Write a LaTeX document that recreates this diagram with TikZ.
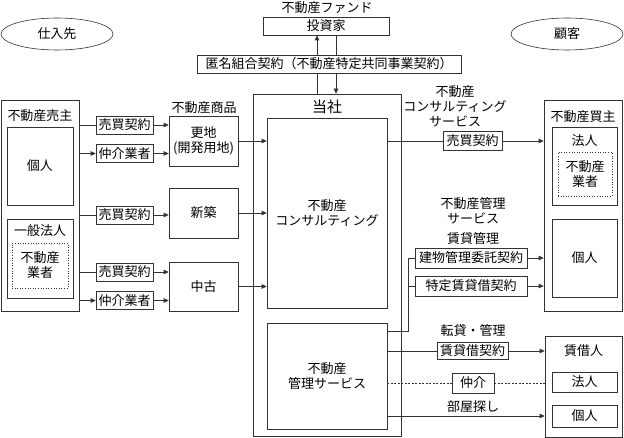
\documentclass[tikz,border=0pt]{standalone}
\usepackage{fontspec}
\setmainfont{Noto Sans CJK JP}
\usetikzlibrary{arrows.meta,shapes.geometric}

\tikzstyle{box} = [draw, rectangle, fill=white, inner sep=0pt, align=center]
\tikzstyle{dotbox} = [draw, dotted, rectangle, inner sep=0pt, align=center]
\tikzstyle{oval} = [draw, ellipse, inner sep=0pt]
\tikzstyle{txt} = [inner sep=0pt, align=center]

\begin{document}
\begin{tikzpicture}[x=1pt, y=-1pt, line width=0.6pt, draw=black!80,
    >={Triangle[length=5pt,width=4.5pt]},
    font=\fontsize{13}{15}\selectfont]
      \useasboundingbox (0,0) rectangle (624,438);

      % top
      \node [oval, minimum width=112, minimum height=32] (supp) at (57,34) {仕入先};
      \node [oval, minimum width=112, minimum height=32] (cust) at (567,34) {顧客};
      \node [txt] (fund) at (327,8) {不動産ファンド};
      \node [box, minimum width=126, minimum height=18] (inv) at (326,26) {投資家};

      % tosha
      \node [box, minimum width=148, minimum height=342] (tosha) at (327,265) {};
      \node [txt, font=\fontsize{15}{17}\selectfont] (toshalbl) at (327,107) {当社};
      \node [box, minimum width=120, minimum height=190] (cons) at (327,213) {不動産\\コンサルティング};
      \node [box, minimum width=120, minimum height=106] (mgmt) at (327,376) {不動産\\管理サービス};

      \node [shape=coordinate] (upx) at (317,0) {};
      \node [shape=coordinate] (downx) at (336,0) {};
      \draw [->] (upx |- tosha.north) -- (upx |- inv.south);
      \draw [->] (downx |- inv.south) -- (downx |- tosha.north);
      \node [box, minimum width=264, minimum height=18] (tokumei) at (329,64) {匿名組合契約（不動産特定共同事業契約）};

      % sellers
      \node [box, minimum width=78, minimum height=211] (seller) at (40,205.5) {};
      \node [txt] (sellerlbl) at (40,116) {不動産売主};
      \node [box, minimum width=66, minimum height=78] (kojin1) at (40,166) {個人};
      \node [box, minimum width=66, minimum height=79] (hojin1) at (40,258.5) {};
      \node [txt] (hojin1lbl) at (40,231) {一般法人};
      \node [dotbox, minimum width=56, minimum height=45] (dot1) at (40,265.5) {不動産\\業者};

      % contracts on the left
      \node [box, minimum width=57, minimum height=18] (c1) at (124.5,125) {売買契約};
      \node [box, minimum width=57, minimum height=18] (c2) at (124.5,153.5) {仲介業者};
      \node [box, minimum width=57, minimum height=18] (c3) at (124.5,215) {売買契約};
      \node [box, minimum width=57, minimum height=18] (c4) at (124.5,272) {売買契約};
      \node [box, minimum width=57, minimum height=18] (c5) at (124.5,300.5) {仲介業者};

      % products
      \node [txt] (prodlbl) at (204,108) {不動産商品};
      \node [box, minimum width=69, minimum height=50] (sara) at (203.5,141) {更地\\(開発用地)};
      \node [box, minimum width=69, minimum height=50] (shin) at (203.5,213) {新築};
      \node [box, minimum width=69, minimum height=49] (chuko) at (203.5,286.5) {中古};

      \draw (seller.east |- c1) -- (c1);
      \draw [->] (c1) -- (c1 -| sara.west);
      \draw [->] (seller.east |- c2) -- (c2);
      \draw [->] (c2) -- (c2 -| sara.west);
      \draw (seller.east |- c3) -- (c3);
      \draw [->] (c3) -- (c3 -| shin.west);
      \draw (seller.east |- c4) -- (c4);
      \draw [->] (c4) -- (c4 -| chuko.west);
      \draw [->] (seller.east |- c5) -- (c5);
      \draw [->] (c5) -- (c5 -| chuko.west);
      \draw [->] (sara) -- (sara -| cons.west);
      \draw [->] (shin) -- (shin -| cons.west);
      \draw [->] (chuko) -- (chuko -| cons.west);

      % buyers
      \node [box, minimum width=78, minimum height=211] (buyer) at (583,205.5) {};
      \node [txt] (buyerlbl) at (583,117) {不動産買主};
      \node [box, minimum width=65, minimum height=78] (hojin2) at (584.5,166) {};
      \node [txt] (hojin2lbl) at (584.5,141) {法人};
      \node [dotbox, minimum width=54, minimum height=44] (dot2) at (585,174) {不動産\\業者};
      \node [box, minimum width=65, minimum height=78] (kojin2) at (584.5,258) {個人};

      \node [txt] (conslbl) at (455,106) {不動産\\コンサルティング\\サービス};
      \node [box, minimum width=59, minimum height=19] (bb) at (472.5,141) {売買契約};
      \draw (bb -| cons.east) -- (bb);
      \draw [->] (bb) -- (bb -| buyer.west);

      \node [txt] (mgmtlbl) at (473,211) {不動産管理\\サービス};
      \node [txt] (kanrilbl) at (473,239) {賃貸管理};
      \node [box, minimum width=112, minimum height=20] (tatemono) at (471,258) {建物管理委託契約};
      \node [box, minimum width=112, minimum height=20] (tokutei) at (471,286) {特定賃貸借契約};
      \draw [->] (tatemono) -- (tatemono -| buyer.west);
      \draw [->] (tokutei) -- (tokutei -| buyer.west);
      \node [shape=coordinate] (conn1) at (408,331) {};
      \draw (conn1 -| mgmt.east) -- (conn1) |- (tatemono);
      \draw (conn1 |- tokutei) -- (tokutei);

      % tenants
      \node [box, minimum width=77, minimum height=101] (tenant) at (583.5,386.5) {};
      \node [txt] (tenantlbl) at (583.5,351) {賃借人};
      \node [box, minimum width=65, minimum height=20] (hojin3) at (584.5,382) {法人};
      \node [box, minimum width=65, minimum height=22] (kojin3) at (584.5,416) {個人};

      \node [txt] (tenkanlbl) at (473,331) {転貸・管理};
      \node [box, minimum width=71, minimum height=17] (chintai) at (472.5,351) {賃貸借契約};
      \draw (chintai -| mgmt.east) -- (chintai);
      \draw [->] (chintai) -- (chintai -| tenant.west);

      \node [box, minimum width=42, minimum height=20] (chukai) at (473,383) {仲介};
      \draw [dash pattern=on 2pt off 1.5pt] (chukai -| mgmt.east) -- (chukai);
      \draw [dash pattern=on 2pt off 1.5pt] (chukai) -- (chukai -| tenant.west);

      \node [txt] (heyalbl) at (473,407) {部屋探し};
      \draw [->] (kojin3 -| mgmt.east) -- (kojin3 -| tenant.west);
    \end{tikzpicture}
\end{document}
